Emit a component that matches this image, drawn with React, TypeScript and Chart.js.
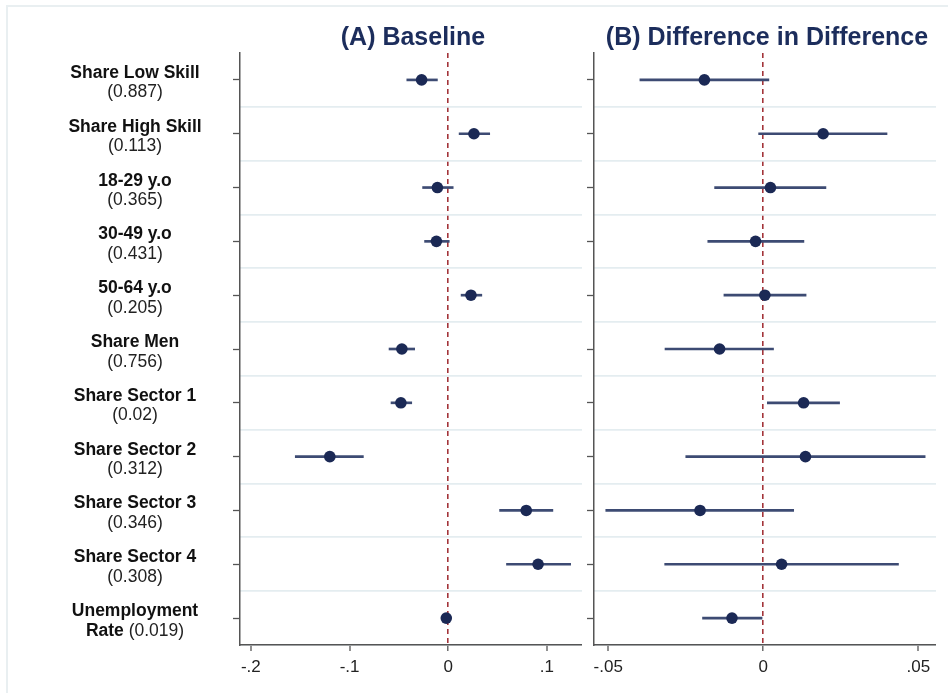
import React, { useEffect, useRef } from "react";
import { Chart, registerables } from "chart.js";

Chart.register(...registerables);

// ---------- data ----------
const categories = [
  "Share Low Skill",
  "Share High Skill",
  "18-29 y.o",
  "30-49 y.o",
  "50-64 y.o",
  "Share Men",
  "Share Sector 1",
  "Share Sector 2",
  "Share Sector 3",
  "Share Sector 4",
  "Unemployment",
];
const categoryMeans = [
  "(0.887)", "(0.113)", "(0.365)", "(0.431)", "(0.205)", "(0.756)",
  "(0.02)", "(0.312)", "(0.346)", "(0.308)", "(0.019)",
];

const baselineEst = [-0.027, 0.026, -0.011, -0.012, 0.023, -0.047, -0.048, -0.120, 0.079, 0.091, -0.002];
const baselineLo = [-0.042, 0.011, -0.026, -0.024, 0.013, -0.060, -0.058, -0.155, 0.052, 0.059, -0.003];
const baselineHi = [-0.011, 0.042, 0.005, 0.001, 0.034, -0.034, -0.037, -0.086, 0.106, 0.124, -0.001];

const didEst = [-0.019, 0.0193, 0.0023, -0.0025, 0.0005, -0.0141, 0.013, 0.0136, -0.0204, 0.0059, -0.0101];
const didLo = [-0.0398, -0.0015, -0.0157, -0.0179, -0.0127, -0.0317, 0.0013, -0.025, -0.0508, -0.0318, -0.0196];
const didHi = [0.0018, 0.0399, 0.0202, 0.0131, 0.0138, 0.0033, 0.0246, 0.0522, 0.0098, 0.0436, -0.0004];

const baselineTicks = [-0.2, -0.1, 0, 0.1];
const baselineTickLabels = ["-.2", "-.1", "0", ".1"];
const didTicks = [-0.05, 0, 0.05];
const didTickLabels = ["-.05", "0", ".05"];

const panelTitles = ["(A) Baseline", "(B) Difference in Difference"];

// ---------- styles ----------
const FONT = '"Liberation Sans", Arial, Helvetica, sans-serif';
const NAVY = "#1b2955";
const BAR = "#3d4b73";
const AXIS = "#555555";
const GRID = "#e4edf0";
const ZERO = "#a3343a";

type PanelCfg = {
  width: number;
  height: number;
  padLeft: number;
  padRight: number;
  xMin: number;
  xMax: number;
  est: number[];
  lo: number[];
  hi: number[];
  ticks: number[];
  tickLabels: string[];
  title: string;
  drawLabels: boolean;
};

function makeChart(canvas: HTMLCanvasElement, cfg: PanelCfg) {
  const titlePlugin = {
    id: "panelTitle",
    afterDraw(chart: any) {
      const { ctx, chartArea } = chart;
      ctx.save();
      ctx.font = `bold 25px ${FONT}`;
      ctx.fillStyle = "#1c2d5c";
      ctx.textAlign = "center";
      ctx.textBaseline = "alphabetic";
      ctx.fillText(cfg.title, (chartArea.left + chartArea.right) / 2 + 2, 45);
      ctx.restore();
    },
  };

  const labelPlugin = {
    id: "rowLabels",
    afterDraw(chart: any) {
      if (!cfg.drawLabels) return;
      const { ctx } = chart;
      const yScale = chart.scales.y;
      const cx = 135;
      ctx.save();
      ctx.textBaseline = "alphabetic";
      categories.forEach((name, i) => {
        const y = yScale.getPixelForValue(i);
        const bold = `bold 17.5px ${FONT}`;
        const reg = `17.5px ${FONT}`;
        if (name === "Unemployment") {
          ctx.textAlign = "center";
          ctx.font = bold;
          ctx.fillStyle = "#111111";
          ctx.fillText(name, cx, y - 2);
          const p1 = "Rate";
          const p2 = " " + categoryMeans[i];
          ctx.font = bold;
          const w1 = ctx.measureText(p1).width;
          ctx.font = reg;
          const w2 = ctx.measureText(p2).width;
          const start = cx - (w1 + w2) / 2;
          ctx.textAlign = "left";
          ctx.font = bold;
          ctx.fillStyle = "#111111";
          ctx.fillText(p1, start, y + 17.5);
          ctx.font = reg;
          ctx.fillStyle = "#222222";
          ctx.fillText(p2, start + w1, y + 17.5);
        } else {
          ctx.textAlign = "center";
          ctx.font = bold;
          ctx.fillStyle = "#111111";
          ctx.fillText(name, cx, y - 2);
          ctx.font = reg;
          ctx.fillStyle = "#222222";
          ctx.fillText(categoryMeans[i], cx, y + 17.5);
        }
      });
      ctx.restore();
    },
  };

  const idx = categories.map((_, i) => i);

  return new Chart(canvas, {
    type: "bar",
    data: {
      labels: categories,
      datasets: [
        {
          type: "scatter" as any,
          data: cfg.est.map((v, i) => ({ x: v, y: idx[i] })),
          pointRadius: 5.8,
          pointBackgroundColor: NAVY,
          pointBorderWidth: 0,
          backgroundColor: NAVY,
          borderWidth: 0,
          order: 0,
          clip: false,
        } as any,
        {
          type: "bar",
          data: cfg.lo.map((v, i) => [v, cfg.hi[i]]),
          backgroundColor: BAR,
          borderWidth: 0,
          barThickness: 2,
          order: 1,
        } as any,
      ],
    },
    options: {
      indexAxis: "y",
      responsive: false,
      animation: false,
      devicePixelRatio: 1,
      layout: {
        autoPadding: false,
        padding: { left: cfg.padLeft, right: cfg.padRight, top: 53, bottom: 8 },
      },
      plugins: {
        legend: { display: false },
        tooltip: { enabled: false },
        title: { display: false },
      },
      scales: {
        x: {
          type: "linear",
          position: "bottom",
          min: cfg.xMin,
          max: cfg.xMax,
          afterBuildTicks: (scale: any) => {
            scale.ticks = cfg.ticks.map((v) => ({ value: v }));
          },
          afterFit: (scale: any) => {
            scale.height = 40;
          },
          ticks: {
            autoSkip: false,
            maxRotation: 0,
            padding: 6,
            color: "#222222",
            font: { family: FONT, size: 17 },
            callback: (value: any) => {
              const k = cfg.ticks.findIndex((t) => Math.abs(t - value) < 1e-9);
              return k >= 0 ? cfg.tickLabels[k] : "";
            },
          },
          grid: {
            drawOnChartArea: true,
            drawTicks: true,
            tickLength: 6,
            tickColor: AXIS,
            tickWidth: 1.3,
            lineWidth: (ctx: any) => (ctx.tick && Math.abs(ctx.tick.value) < 1e-12 ? 1.6 : 0),
            color: (ctx: any) =>
              ctx.tick && Math.abs(ctx.tick.value) < 1e-12 ? ZERO : "rgba(0,0,0,0)",
          },
          border: { display: true, color: AXIS, width: 1.5, dash: [5, 4] },
        },
        y: {
          type: "category",
          position: "left",
          offset: true,
          afterFit: (scale: any) => {
            scale.width = 7;
          },
          ticks: { display: false },
          grid: {
            offset: false,
            drawOnChartArea: false,
            drawTicks: true,
            tickLength: 7,
            tickColor: AXIS,
            tickWidth: 1.3,
          },
          border: { display: true, color: AXIS, width: 1.5 },
        },
        y2: {
          type: "category",
          position: "right",
          offset: true,
          afterFit: (scale: any) => {
            scale.width = 0;
          },
          ticks: { display: false },
          grid: {
            offset: true,
            drawOnChartArea: true,
            drawTicks: false,
            lineWidth: 1.8,
            color: (ctx: any) =>
              ctx.index === 0 || ctx.index === categories.length ? "rgba(0,0,0,0)" : GRID,
          },
          border: { display: false },
        },
      },
    } as any,
    plugins: [titlePlugin, labelPlugin],
  });
}

function Panel({ cfg, left }: { cfg: PanelCfg; left: number }) {
  const ref = useRef<HTMLCanvasElement | null>(null);
  useEffect(() => {
    if (!ref.current) return;
    const chart = makeChart(ref.current, cfg);
    return () => chart.destroy();
  }, []);
  return (
    <canvas
      ref={ref}
      width={cfg.width}
      height={cfg.height}
      style={{ position: "absolute", left, top: 0, width: cfg.width, height: cfg.height }}
    />
  );
}

export default function App() {
  const panelA: PanelCfg = {
    width: 584,
    height: 693,
    padLeft: 233,
    padRight: 2,
    xMin: -0.211,
    xMax: 0.1355,
    est: baselineEst,
    lo: baselineLo,
    hi: baselineHi,
    ticks: baselineTicks,
    tickLabels: baselineTickLabels,
    title: panelTitles[0],
    drawLabels: true,
  };
  const panelB: PanelCfg = {
    width: 364,
    height: 693,
    padLeft: 3,
    padRight: 12,
    xMin: -0.0546,
    xMax: 0.0557,
    est: didEst,
    lo: didLo,
    hi: didHi,
    ticks: didTicks,
    tickLabels: didTickLabels,
    title: panelTitles[1],
    drawLabels: false,
  };
  return (
    <div
      style={{
        position: "fixed",
        left: 0,
        top: 0,
        width: 948,
        height: 693,
        background: "#ffffff",
        overflow: "hidden",
      }}
    >
      <div
        style={{
          position: "absolute",
          left: 6,
          top: 5,
          width: 960,
          height: 720,
          borderLeft: "2px solid #e9eff1",
          borderTop: "2px solid #e9eff1",
        }}
      />
      <Panel cfg={panelA} left={0} />
      <Panel cfg={panelB} left={584} />
    </div>
  );
}
